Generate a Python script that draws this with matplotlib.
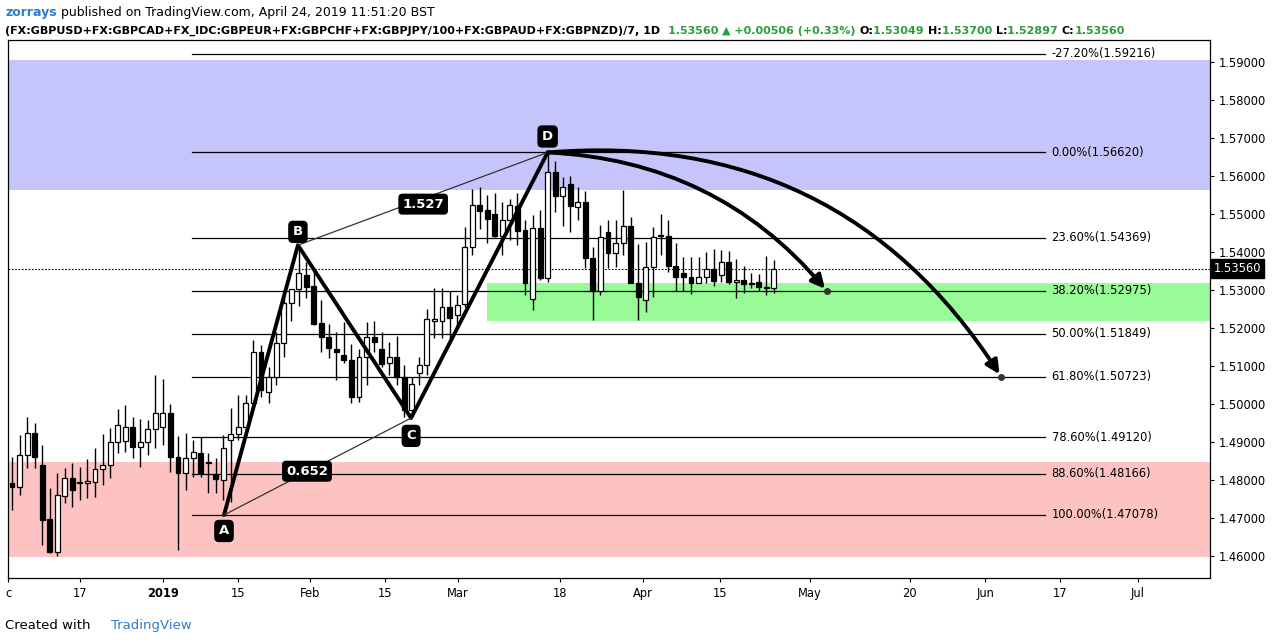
import matplotlib
matplotlib.use("Agg")
import matplotlib.pyplot as plt
import numpy as np
from matplotlib.patches import FancyArrowPatch, Rectangle

opens = [1.4792,1.4782,1.4866,1.4924,1.4840,1.4697,1.4611,1.4758,1.4805,1.4792,1.4792,1.4795,1.4829,1.4840,1.4900,1.4903,1.4940,1.4887,1.4900,1.4934,
         1.4940,1.4976,1.4861,1.4818,1.4858,1.4871,1.4845,1.4816,1.4800,1.4905,1.4921,1.4940,1.5002,1.5137,1.5031,1.5071,1.5160,1.5266,1.5303,1.5340,
         1.5311,1.5213,1.5176,1.5145,1.5129,1.5116,1.5018,1.5124,1.5176,1.5145,1.5108,1.5124,1.5071,1.4984,1.5081,1.5102,1.5219,1.5219,1.5256,1.5235,
         1.5263,1.5413,1.5524,1.5511,1.5500,1.5442,1.5484,1.5521,1.5458,1.5277,1.5463,1.5332,1.5610,1.5547,1.5579,1.5518,1.5532,1.5384,1.5298,1.5452,
         1.5397,1.5423,1.5468,1.5319,1.5274,1.5360,1.5442,1.5442,1.5363,1.5345,1.5335,1.5319,1.5335,1.5355,1.5340,1.5374,1.5321,1.5327,1.5319,1.5321,
         1.5308,1.5305]
highs = [1.4861,1.4918,1.4965,1.4950,1.4892,1.4779,1.4818,1.4832,1.4845,1.4834,1.4855,1.4884,1.4921,1.4937,1.4986,1.4997,1.4965,1.4960,1.4958,1.5076,
         1.5066,1.4999,1.4916,1.4924,1.4905,1.4913,1.4871,1.4858,1.4918,1.4989,1.5023,1.5023,1.5168,1.5155,1.5097,1.5190,1.5300,1.5295,1.5413,1.5374,
         1.5356,1.5274,1.5211,1.5190,1.5216,1.5158,1.5145,1.5216,1.5219,1.5190,1.5163,1.5179,1.5102,1.5071,1.5124,1.5250,1.5306,1.5306,1.5298,1.5287,
         1.5466,1.5566,1.5571,1.5550,1.5555,1.5532,1.5540,1.5555,1.5484,1.5497,1.5511,1.5662,1.5639,1.5597,1.5600,1.5571,1.5561,1.5413,1.5471,1.5484,
         1.5484,1.5563,1.5492,1.5421,1.5426,1.5466,1.5500,1.5484,1.5423,1.5387,1.5387,1.5387,1.5400,1.5408,1.5405,1.5402,1.5381,1.5363,1.5345,1.5342,
         1.5389,1.5379]
lows = [1.4721,1.4761,1.4832,1.4832,1.4629,1.4608,1.4600,1.4739,1.4729,1.4747,1.4753,1.4755,1.4787,1.4805,1.4871,1.4874,1.4858,1.4834,1.4866,1.4884,
        1.4892,1.4821,1.4616,1.4774,1.4808,1.4808,1.4766,1.4766,1.4747,1.4742,1.4905,1.4932,1.4997,1.5018,1.5002,1.5050,1.5124,1.5219,1.5258,1.5279,
        1.5208,1.5137,1.5121,1.5063,1.5108,1.5002,1.5005,1.5050,1.5137,1.5097,1.5076,1.5050,1.4965,1.4976,1.5050,1.5076,1.5174,1.5174,1.5174,1.5195,
        1.5256,1.5392,1.5460,1.5423,1.5439,1.5392,1.5431,1.5418,1.5287,1.5248,1.5327,1.5321,1.5505,1.5468,1.5452,1.5484,1.5358,1.5221,1.5287,1.5358,
        1.5360,1.5392,1.5319,1.5221,1.5242,1.5282,1.5392,1.5347,1.5298,1.5298,1.5290,1.5319,1.5319,1.5311,1.5321,1.5316,1.5279,1.5292,1.5306,1.5298,
        1.5287,1.5292]
closes = [1.4782,1.4866,1.4924,1.4861,1.4694,1.4611,1.4761,1.4805,1.4774,1.4792,1.4797,1.4829,1.4840,1.4900,1.4945,1.4940,1.4887,1.4900,1.4934,1.4976,
          1.4976,1.4861,1.4818,1.4858,1.4874,1.4818,1.4848,1.4803,1.4884,1.4921,1.4940,1.5002,1.5137,1.5036,1.5071,1.5160,1.5266,1.5303,1.5345,1.5308,
          1.5211,1.5176,1.5147,1.5137,1.5116,1.5018,1.5124,1.5176,1.5163,1.5105,1.5124,1.5071,1.4984,1.5052,1.5102,1.5224,1.5224,1.5256,1.5227,1.5261,
          1.5413,1.5524,1.5508,1.5487,1.5442,1.5484,1.5524,1.5455,1.5319,1.5463,1.5332,1.5610,1.5547,1.5571,1.5521,1.5532,1.5384,1.5298,1.5439,1.5397,
          1.5423,1.5468,1.5319,1.5282,1.5360,1.5439,1.5442,1.5363,1.5335,1.5335,1.5319,1.5335,1.5355,1.5324,1.5374,1.5321,1.5327,1.5316,1.5316,1.5308,
          1.5305,1.5356]

tick_pos = [-0.5, 9.0, 20.0, 30.0, 39.5, 49.4, 59.1, 72.6, 83.6, 93.8, 105.8, 119.0, 129.0, 138.9, 149.2]
tick_labels = ["c", "17", "2019", "15", "Feb", "15", "Mar", "18", "Apr", "15", "May", "20", "Jun", "17", "Jul"]

fib_pcts = ["-27.20%", "0.00%", "23.60%", "38.20%", "50.00%", "61.80%", "78.60%", "88.60%", "100.00%"]
fib_levels = [1.59216, 1.56620, 1.54369, 1.52975, 1.51849, 1.50723, 1.49120, 1.48166, 1.47078]

pattern_names = ["A", "B", "C", "D"]
pattern_x = [28.1, 37.9, 52.9, 71.0]
pattern_y = [1.47078, 1.5418, 1.4963, 1.5662]
ratio_labels = ["0.652", "1.527"]

targets_x = [108.0, 131.1]
targets_y = [1.52975, 1.50723]
last_price = 1.53560

fig = plt.figure(figsize=(12.73, 6.43), dpi=100)
ax = fig.add_axes([0.0063, 0.1011, 0.9442, 0.8367])
xmin, xmax = -0.53, 158.8
ymin, ymax = 1.4542, 1.5958
ax.set_xlim(xmin, xmax)
ax.set_ylim(ymin, ymax)

ax.axhspan(1.5563, 1.5905, color="#c5c5fb", zorder=0, lw=0)
ax.axhspan(1.4597, 1.4847, color="#fdc3c3", zorder=0, lw=0)
ax.add_patch(Rectangle((63.0, 1.5218), xmax - 63.0, 1.5318 - 1.5218, color="#98fb98", zorder=0, lw=0))

for p, lv in zip(fib_pcts, fib_levels):
    ax.plot([23.9, 136.9], [lv, lv], color="black", lw=0.9, zorder=1)
    ax.text(137.8, lv, f"{p}({lv:.5f})", fontsize=8.3, va="center", ha="left", zorder=6)

idx = np.arange(len(opens))
o = np.array(opens); h = np.array(highs); l = np.array(lows); c = np.array(closes)
ax.vlines(idx, l, h, color="black", lw=1, zorder=2)
up = c >= o
bot = np.minimum(o, c)
ht = np.maximum(np.abs(c - o), 0.00015)
ax.bar(idx[up], ht[up], bottom=bot[up], width=0.65, color="white", edgecolor="black", lw=0.9, zorder=3)
ax.bar(idx[~up], ht[~up], bottom=bot[~up], width=0.65, color="black", edgecolor="black", lw=0.9, zorder=3)

ax.axhline(last_price, color="black", lw=0.8, ls=(0, (1.5, 1.5)), zorder=1)

ax.plot(pattern_x, pattern_y, color="black", lw=2.8, zorder=4, solid_capstyle="round")
ax.plot([pattern_x[0], pattern_x[2]], [pattern_y[0], pattern_y[2]], color="#333333", lw=0.9, zorder=4)
ax.plot([pattern_x[1], pattern_x[3]], [pattern_y[1], pattern_y[3]], color="#333333", lw=0.9, zorder=4)
offs = [-0.0042, 0.0035, -0.0047, 0.0042]
for n, xx, yy, dy in zip(pattern_names, pattern_x, pattern_y, offs):
    ax.text(xx, yy + dy, n, color="white", fontsize=9.5, fontweight="bold", ha="center", va="center", zorder=7,
            bbox=dict(boxstyle="round,pad=0.3", fc="black", ec="black"))
mx = (pattern_x[0] + pattern_x[2]) / 2 - 1.4
ax.text(mx, 1.4823, ratio_labels[0], color="white", fontsize=9.5, fontweight="bold", ha="center", va="center", zorder=7,
        bbox=dict(boxstyle="round,pad=0.25", fc="black", ec="black"))
ax.text(54.5, 1.5526, ratio_labels[1], color="white", fontsize=9.5, fontweight="bold", ha="center", va="center", zorder=7,
        bbox=dict(boxstyle="round,pad=0.25", fc="black", ec="black"))

for tx, ty, rad in zip(targets_x, targets_y, [-0.22, -0.3]):
    arr = FancyArrowPatch((pattern_x[3], pattern_y[3]), (tx, ty), connectionstyle=f"arc3,rad={rad}",
                          arrowstyle="-|>,head_length=8,head_width=4", lw=2.8, color="black", zorder=5,
                          shrinkA=0, shrinkB=2)
    ax.add_patch(arr)
    ax.plot([tx], [ty], "o", color="#333333", ms=4, zorder=6)

ax.yaxis.tick_right()
yt = np.arange(1.46, 1.5901, 0.01)
ax.set_yticks(yt)
ax.set_yticklabels([f"{v:.5f}" for v in yt], fontsize=8.3)
ax.set_xticks(tick_pos)
labs = ax.set_xticklabels(tick_labels, fontsize=8.3)
labs[2].set_fontweight("bold")
ax.tick_params(axis="both", length=3, color="black")
for s in ax.spines.values():
    s.set_color("black"); s.set_linewidth(0.9)
ax.text(1.003, (last_price - ymin) / (ymax - ymin), f"{last_price:.5f}", transform=ax.transAxes, fontsize=8.3,
        color="white", va="center", ha="left", zorder=8, bbox=dict(boxstyle="square,pad=0.25", fc="black", ec="black"),
        clip_on=False)

# header, laid out sequentially
fig.canvas.draw()
rend = fig.canvas.get_renderer()
def row(parts, y, fs):
    x = 0.004
    for txt, col, bold in parts:
        t = fig.text(x, y, txt, fontsize=fs, color=col, fontweight="bold" if bold else "normal", va="center")
        bb = t.get_window_extent(renderer=rend)
        x += bb.width / fig.bbox.width
green = "#2a9d3f"
row([("zorrays", "#2f7bc8", True), (" published on TradingView.com, April 24, 2019 11:51:20 BST", "black", False)], 0.981, 9)
row([("(FX:GBPUSD+FX:GBPCAD+FX_IDC:GBPEUR+FX:GBPCHF+FX:GBPJPY/100+FX:GBPAUD+FX:GBPNZD)/7, 1D  ", "black", True),
     ("1.53560 ", green, True), ("\u25b2 +0.00506 (+0.33%) ", green, True),
     ("O:", "black", True), ("1.53049 ", green, True), ("H:", "black", True), ("1.53700 ", green, True),
     ("L:", "black", True), ("1.52897 ", green, True), ("C:", "black", True), ("1.53560", green, True)], 0.952, 8.0)
fig.text(0.004, 0.027, "Created with", fontsize=9.5, va="center")
fig.text(0.087, 0.027, "TradingView", fontsize=9.5, color="#2f7bc8", va="center")

fig.savefig("out.png", dpi=100)
